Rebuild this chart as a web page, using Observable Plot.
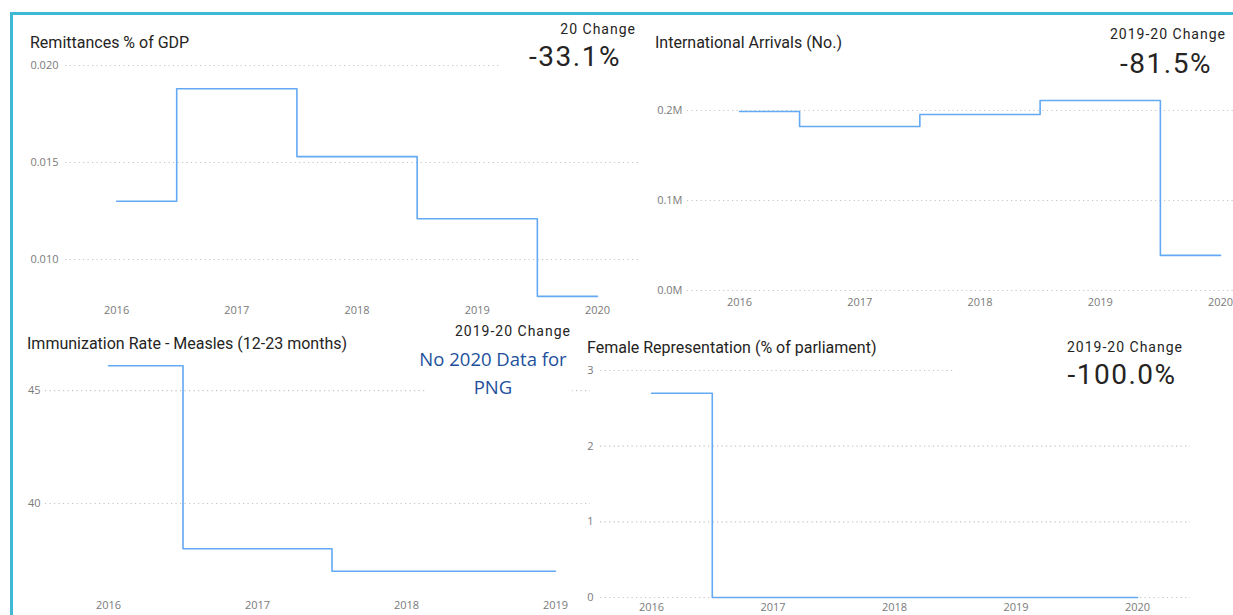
<!DOCTYPE html>
<html>
<head>
<meta charset="utf-8">
<script src="https://cdn.jsdelivr.net/npm/d3@7"></script>
<script src="https://cdn.jsdelivr.net/npm/@observablehq/plot@0.6"></script>
<style>
  html, body { margin: 0; padding: 0; background: #fff; }
  #page { position: relative; width: 1233px; height: 615px; overflow: hidden; background: #fff; }
  #page svg { position: absolute; }
  .t { position: absolute; white-space: nowrap; }
  .title { font-family: Roboto, "Noto Sans", sans-serif; font-size: 16px; color: #252423; line-height: 20px; }
  .klabel { font-family: Roboto, sans-serif; font-size: 14px; color: #252423; line-height: 18px; letter-spacing: 1px; text-align: right; }
  .kval { font-family: Roboto, sans-serif; font-size: 28px; color: #252423; line-height: 34px; letter-spacing: 1.5px; text-align: center; }
  .note { font-family: "Open Sans", sans-serif; font-size: 18.5px; color: #22509c; line-height: 26px; text-align: center; }
  .card { position: absolute; background: #fff; }
  #border { position: absolute; left: 10px; top: 12px; width: 1240px; height: 620px; border-left: 3px solid #3fb8d4; border-top: 3px solid #3fb8d4; box-sizing: border-box; }
</style>
</head>
<body>
<div id="page"></div>
<script>
// ---- data ----
const years = [2016, 2017, 2018, 2019, 2020];
const immunYears = [2016, 2017, 2018, 2019];
const remittances = [0.0130, 0.0188, 0.0153, 0.0121, 0.0081];
const arrivals = [198900, 182200, 195600, 211100, 39000];
const immunization = [46.1, 38.0, 37.0, 37.0];
const femaleRep = [2.7, 0, 0, 0, 0];

const remitTicks = [0.010, 0.015, 0.020];
const arrivalTicks = [0, 100000, 200000];
const immunTicks = [40, 45];
const femaleTicks = [0, 1, 2, 3];

const titles = ["Remittances % of GDP", "International Arrivals (No.)",
  "Immunization Rate - Measles (12-23 months)", "Female Representation (% of parliament)"];
const kpiLabels = ["20 Change", "2019-20 Change", "2019-20 Change", "2019-20 Change"];
const kpiValues = ["-33.1%", "-81.5%", null, "-100.0%"];
const noDataNote = ["No 2020 Data for", "PNG"];

const page = document.getElementById("page");
const LINE = "#64a9f3";

function panel(o) {
  const data = o.xs.map((x, i) => ({year: x, value: o.ys[i]}));
  const chart = Plot.plot({
    width: o.width, height: o.height,
    marginTop: o.mt, marginBottom: o.mb, marginLeft: o.ml, marginRight: o.mr,
    style: {fontFamily: "'Open Sans', sans-serif", fontSize: "11px", color: "#7a7a7a", background: "transparent", overflow: "visible"},
    x: {domain: o.xDomain, ticks: o.xs, tickFormat: d => String(d), tickSize: 0, tickPadding: o.xPad, label: null},
    y: {domain: o.yDomain, ticks: o.yTicks, tickFormat: o.yFmt, tickSize: 0, tickPadding: o.yPad, label: null},
    marks: [
      Plot.ruleY(o.yTicks, {stroke: "#c4c4c4", strokeDasharray: "1.2,3.3", strokeWidth: 1.2}),
      Plot.line(data, {x: "year", y: "value", curve: "step", stroke: LINE, strokeWidth: 1.6})
    ]
  });
  chart.style.left = o.left + "px";
  chart.style.top = o.top + "px";
  page.appendChild(chart);
}

// Panel 1: Remittances
panel({xs: years, ys: remittances, left: 0, top: 0, width: 640, height: 320,
  mt: 65, mb: 23, ml: 65, mr: 0, xDomain: [2015.575, 2020.358], yDomain: [0.00804, 0.020],
  yTicks: remitTicks, yFmt: d3.format(".3f"), xPad: 9, yPad: 7});
// Panel 2: International arrivals
panel({xs: years, ys: arrivals, left: 640, top: 0, width: 593, height: 315,
  mt: 95, mb: 25, ml: 47, mr: 0, xDomain: [2015.568, 2020.108], yDomain: [0, 216667],
  yTicks: arrivalTicks, yFmt: d => (d / 1e6).toFixed(1) + "M", xPad: 8, yPad: 5});
// Panel 3: Immunization
panel({xs: immunYears, ys: immunization, left: 0, top: 330, width: 590, height: 285,
  mt: 30, mb: 23, ml: 45, mr: 0, xDomain: [2015.577, 2019.235], yDomain: [36.06, 46.33],
  yTicks: immunTicks, yFmt: d3.format("d"), xPad: 9, yPad: 5});
// Panel 4: Female representation
panel({xs: years, ys: femaleRep, left: 585, top: 340, width: 605, height: 275,
  mt: 30, mb: 18, ml: 15, mr: 0, xDomain: [2015.58, 2020.436], yDomain: [0, 3],
  yTicks: femaleTicks, yFmt: d3.format("d"), xPad: 6, yPad: 7});

function box(x, y, w, h) {
  const d = document.createElement("div");
  d.className = "card";
  Object.assign(d.style, {left: x + "px", top: y + "px", width: w + "px", height: h + "px"});
  page.appendChild(d);
}
function text(str, cls, opts) {
  const d = document.createElement("div");
  d.className = "t " + cls;
  d.textContent = str;
  page.appendChild(d);
  const r = d.getBoundingClientRect();
  d.style.top = (opts.cy - r.height / 2) + "px";
  if (opts.right != null) d.style.left = (opts.right - r.width) + "px";
  else if (opts.cx != null) d.style.left = (opts.cx - r.width / 2) + "px";
  else d.style.left = opts.left + "px";
  return d;
}

// KPI card backgrounds (cover gridlines as in the dashboard)
box(500, 15, 142, 65);
box(425, 318, 147, 82);
box(955, 335, 240, 50);

// Titles
text(titles[0], "title", {left: 30, cy: 43});
text(titles[1], "title", {left: 655, cy: 43});
text(titles[2], "title", {left: 27, cy: 344});
text(titles[3], "title", {left: 587, cy: 348});

// KPI cards
text(kpiLabels[0], "klabel", {right: 636, cy: 29});
text(kpiValues[0], "kval", {cx: 575, cy: 57});
text(kpiLabels[1], "klabel", {right: 1226, cy: 34});
text(kpiValues[1], "kval", {cx: 1166, cy: 64});
text(kpiLabels[2], "klabel", {right: 571, cy: 331});
text(noDataNote[0], "note", {cx: 493, cy: 359});
text(noDataNote[1], "note", {cx: 493, cy: 387});
text(kpiLabels[3], "klabel", {right: 1183, cy: 347});
text(kpiValues[3], "kval", {cx: 1122, cy: 375});

const b = document.createElement("div");
b.id = "border";
page.appendChild(b);
</script>
</body>
</html>
